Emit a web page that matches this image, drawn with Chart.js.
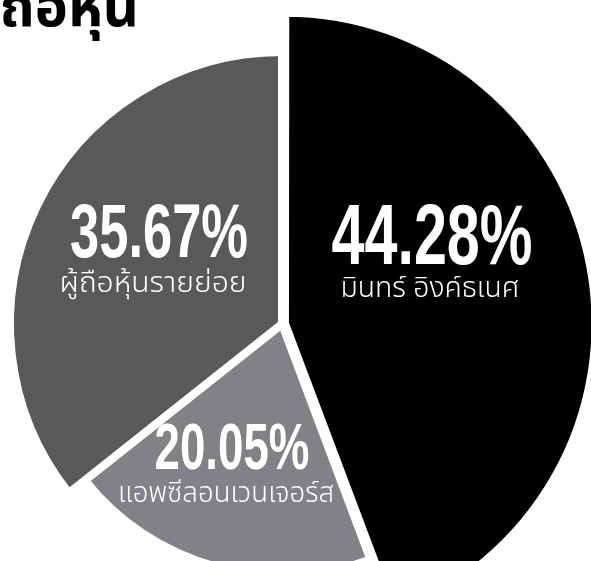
<!DOCTYPE html>
<html lang="th">
<head>
<meta charset="utf-8">
<title>โครงสร้างผู้ถือหุ้น</title>
<script src="https://cdn.jsdelivr.net/npm/chart.js@4.4.1/dist/chart.umd.min.js"></script>
<style>
    html, body {
        margin: 0;
        padding: 0;
        width: 591px;
        height: 561px;
        overflow: hidden;
        background: #fff;
        position: relative;
    }
    #titre {
        position: absolute;
        right: 452px;
        top: -19px;
        font: bold 56px/56px 'Noto Sans Thai', 'Noto Sans', sans-serif;
        white-space: nowrap;
        color: #000;
    }
    #zone-graphique {
        position: absolute;
        left: -68px;
        top: -26px;
        width: 700px;
        height: 700px;
    }
</style>
</head>
<body>
<div id="titre">โครงสร้างผู้ถือหุ้น</div>
<div id="zone-graphique"><canvas id="camembert"></canvas></div>

<script>
// Données
const categories = ['มินทร์ อิงค์ธเนศ', 'แอพซีลอนเวนเจอร์ส', 'ผู้ถือหุ้นรายย่อย'];
const shares = [44.28, 20.05, 35.67];

// Styles (couleurs, tailles) séparés des données
const sliceColors = ['#000000', '#808285', '#58595b'];
const sliceScale = [1.135, 0.925, 1];         // rayon relatif de chaque part
const numberSize = [85, 64, 76];
const numberWidth = [201, 155, 178];           // largeur visée des pourcentages
const subSize = [28, 28, 28];
const subWidth = [179, 216, 187];              // largeur visée des noms
// [dx chiffre, dy ligne de base chiffre, dx sous-titre, dy ligne de base sous-titre] depuis le centre
const labelAnchor = [
    [150, -60, 148, -27],
    [-50, 145, -56, 178],
    [-123, -67, -129, -32]
];

// Rayons différents par part
const rayonParPart = {
    id: 'rayonParPart',
    afterDatasetsUpdate(chart) {
        chart.getDatasetMeta(0).data.forEach((arc, i) => {
            arc.outerRadius = arc.outerRadius * sliceScale[i];
        });
    }
};

// Texte étiré/compressé à une largeur donnée
function texteLargeur(ctx, texte, x, y, largeur) {
    const mesure = ctx.measureText(texte).width;
    ctx.save();
    ctx.translate(x, y);
    ctx.scale(largeur / mesure, 1);
    ctx.fillText(texte, 0, 0);
    ctx.restore();
}

// Étiquettes dans les parts
const etiquettes = {
    id: 'etiquettes',
    afterDatasetsDraw(chart) {
        const ctx = chart.ctx;
        chart.getDatasetMeta(0).data.forEach((arc, i) => {
            const [ndx, ndy, sdx, sdy] = labelAnchor[i];

            ctx.save();
            ctx.fillStyle = '#ffffff';
            ctx.textAlign = 'center';
            ctx.textBaseline = 'alphabetic';

            ctx.font = `bold ${numberSize[i]}px 'Liberation Sans', Arial, sans-serif`;
            texteLargeur(ctx, shares[i].toFixed(2) + '%', arc.x + ndx, arc.y + ndy, numberWidth[i]);

            ctx.font = `300 ${subSize[i]}px 'Noto Sans Thai', 'Noto Sans', sans-serif`;
            texteLargeur(ctx, categories[i], arc.x + sdx, arc.y + sdy, subWidth[i]);
            ctx.restore();
        });
    }
};

new Chart(document.getElementById('camembert').getContext('2d'), {
    type: 'pie',
    data: {
        labels: categories,
        datasets: [{
            data: shares,
            backgroundColor: sliceColors,
            borderColor: '#ffffff',
            borderWidth: 8,
            offset: [12, 0, 0],
            radius: 272
        }]
    },
    options: {
        responsive: true,
        maintainAspectRatio: false,
        devicePixelRatio: 1,
        animation: false,
        events: [],
        layout: { padding: 0 },
        plugins: {
            legend: { display: false },
            tooltip: { enabled: false },
            title: { display: false }
        }
    },
    plugins: [rayonParPart, etiquettes]
});
</script>
</body>
</html>
